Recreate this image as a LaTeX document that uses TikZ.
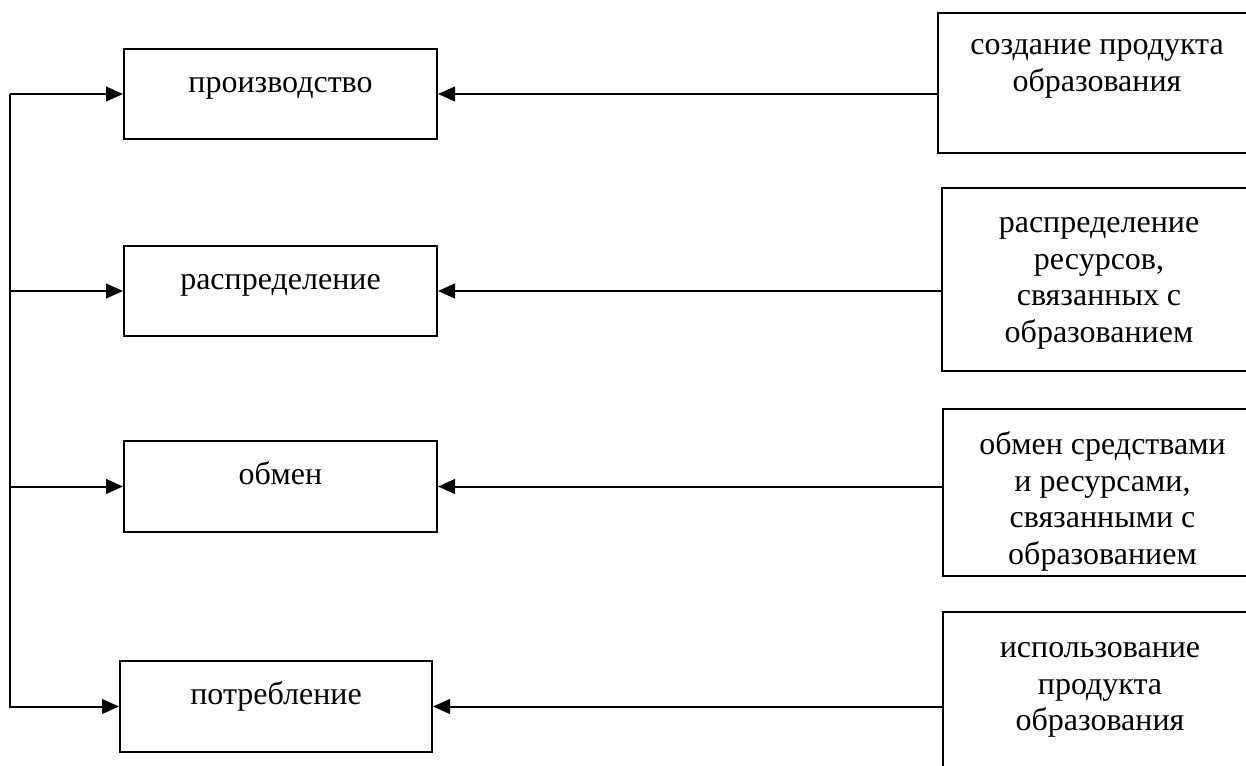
\documentclass[tikz,border=0pt]{standalone}
\usepackage{fontspec}
\setmainfont{Liberation Serif}
\usetikzlibrary{arrows.meta,calc}
\begin{document}
\begin{tikzpicture}[x=0.75pt,y=-0.75pt,
  box/.style={draw,line width=1.5pt,inner sep=0pt,rectangle},
  txt/.style={inner sep=0pt,anchor=north,align=center,font=\fontsize{24}{27.4}\selectfont},
  arr/.style={line width=1.5pt,-{Triangle[length=12.75pt,width=11pt]}}]
\useasboundingbox (0,0) rectangle (1246,766);
\clip (0,0) rectangle (1246,766);
% left boxes
\node[box,minimum width=234.75pt,minimum height=67.5pt] (p1) at (280.5,94) {};
\node[box,minimum width=234.75pt,minimum height=67.5pt] (p2) at (280.5,291) {};
\node[box,minimum width=234.75pt,minimum height=68.25pt] (p3) at (280.5,486.5) {};
\node[box,minimum width=234pt,minimum height=68.25pt] (p4) at (276,706.5) {};
\node[txt] (tp1) at ($(p1.north)+(0,19)$) {\strut производство};
\node[txt] (tp2) at ($(p2.north)+(0,19)$) {\strut распределение};
\node[txt] (tp3) at ($(p3.north)+(0,19)$) {\strut обмен};
\node[txt] (tp4) at ($(p4.north)+(0,19)$) {\strut потребление};
% right boxes
\node[box,minimum width=238.5pt,minimum height=105pt] (r1) at (1097,83) {};
\node[box,minimum width=235.5pt,minimum height=137.25pt] (r2) at (1099,279.5) {};
\node[box,minimum width=239.25pt,minimum height=125.25pt] (r3) at (1102.5,492.5) {};
\node[box,minimum width=235.5pt,minimum height=141pt] (r4) at (1100,706) {};
\node[txt] (tr1) at ($(r1.north)+(0,17)$) {\strut создание продукта\\образования};
\node[txt] (tr2) at ($(r2.north)+(0,20)$) {\strut распределение\\ресурсов,\\связанных с\\образованием};
\node[txt] (tr3) at ($(r3.north)+(0,21)$) {\strut обмен средствами\\и ресурсами,\\связанными с\\образованием};
\node[txt] (tr4) at ($(r4.north)+(0,21)$) {\strut использование\\продукта\\образования};
% arrows from right boxes
\draw[arr] (r1.west |- p1.east) -- (p1.east);
\draw[arr] (r2.west |- p2.east) -- (p2.east);
\draw[arr] (r3.west |- p3.east) -- (p3.east);
\draw[arr] (r4.west |- p4.east) -- (p4.east);
% spine
\coordinate (sp) at (10,0);
\draw[arr] (sp |- p1.west) -- (p1.west);
\draw[arr] (sp |- p1.west) -- (sp |- p4.west) -- (p4.west);
\draw[arr] (sp |- p2.west) -- (p2.west);
\draw[arr] (sp |- p3.west) -- (p3.west);
\end{tikzpicture}
\end{document}
